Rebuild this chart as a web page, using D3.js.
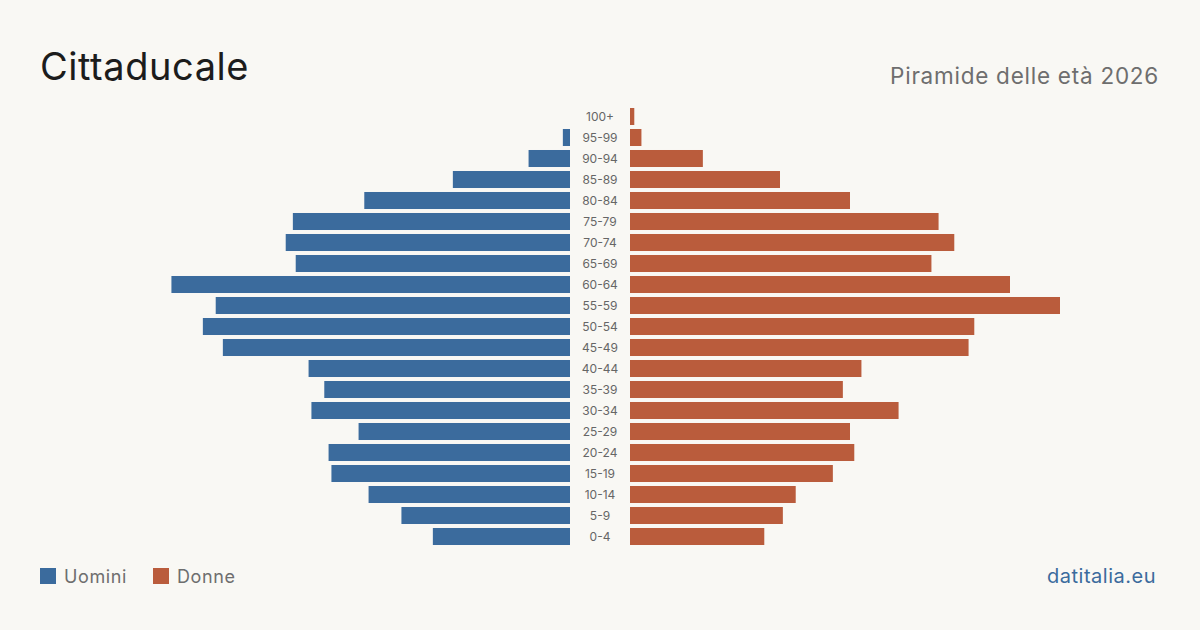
<!DOCTYPE html>
<html><head><meta charset="utf-8">
<script src="https://cdn.jsdelivr.net/npm/d3@7/dist/d3.min.js"></script>
<style>
html,body{margin:0;padding:0;background:#f9f8f4;}
svg{display:block;font-family:Inter,"Noto Sans",sans-serif;}
</style></head><body>
<svg id="c" width="1200" height="630"></svg>
<script>
const ageGroups = ["100+","95-99","90-94","85-89","80-84","75-79","70-74","65-69","60-64","55-59","50-54","45-49","40-44","35-39","30-34","25-29","20-24","15-19","10-14","5-9","0-4"];
const men   = [0, 5, 29, 82, 144, 194, 199, 192, 279, 248, 257, 243, 183, 172, 181, 148, 169, 167, 141, 118, 96];
const women = [3, 8, 51, 105, 154, 216, 227, 211, 266, 301, 241, 237, 162, 149, 188, 154, 157, 142, 116, 107, 94];
const legendLabels = ["Uomini","Donne"];
const colors = ["#3b6b9d","#ba5c3c"];

const svg = d3.select("#c");
svg.append("rect").attr("width",1200).attr("height",630).attr("fill","#f9f8f4");

const maxV = d3.max(men.concat(women));
const xL = d3.scaleLinear().domain([0,maxV]).range([570,140]);
const xR = d3.scaleLinear().domain([0,maxV]).range([630,1060]);
const y = d3.scaleBand().domain(ageGroups).range([106,547]).paddingInner(0.19).paddingOuter(0.095);

svg.append("g").selectAll("rect").data(ageGroups).join("rect")
  .attr("x",(d,i)=>xL(men[i])).attr("y",d=>y(d))
  .attr("width",(d,i)=>570-xL(men[i])).attr("height",y.bandwidth())
  .attr("fill",colors[0]);
svg.append("g").selectAll("rect").data(ageGroups).join("rect")
  .attr("x",630).attr("y",d=>y(d))
  .attr("width",(d,i)=>xR(women[i])-630).attr("height",y.bandwidth())
  .attr("fill",colors[1]);
svg.append("g").selectAll("text").data(ageGroups).join("text")
  .attr("x",600).attr("y",d=>y(d)+y.bandwidth()/2).attr("dy","0.35em")
  .attr("text-anchor","middle").attr("font-size",12).attr("fill","#666")
  .text(d=>d);

svg.append("text").attr("x",40).attr("y",80).attr("font-size",38).attr("letter-spacing",0.55).attr("fill","#1c1c1c").text("Cittaducale");
svg.append("text").attr("x",1159).attr("y",84).attr("text-anchor","end").attr("font-size",22.5).attr("letter-spacing",0.75).attr("fill","#6e6e6e").text("Piramide delle età 2026");

const lg = svg.append("g");
[40,153].forEach((x,i)=>{
  lg.append("rect").attr("x",x).attr("y",568).attr("width",16).attr("height",16).attr("fill",colors[i]);
  lg.append("text").attr("x",x+24).attr("y",583).attr("font-size",18).attr("letter-spacing",0.6).attr("fill","#6e6e6e").text(legendLabels[i]);
});
svg.append("text").attr("x",1156).attr("y",583).attr("text-anchor","end").attr("font-size",20).attr("letter-spacing",0.5).attr("fill","#3b6b9d").text("datitalia.eu");
</script></body></html>
